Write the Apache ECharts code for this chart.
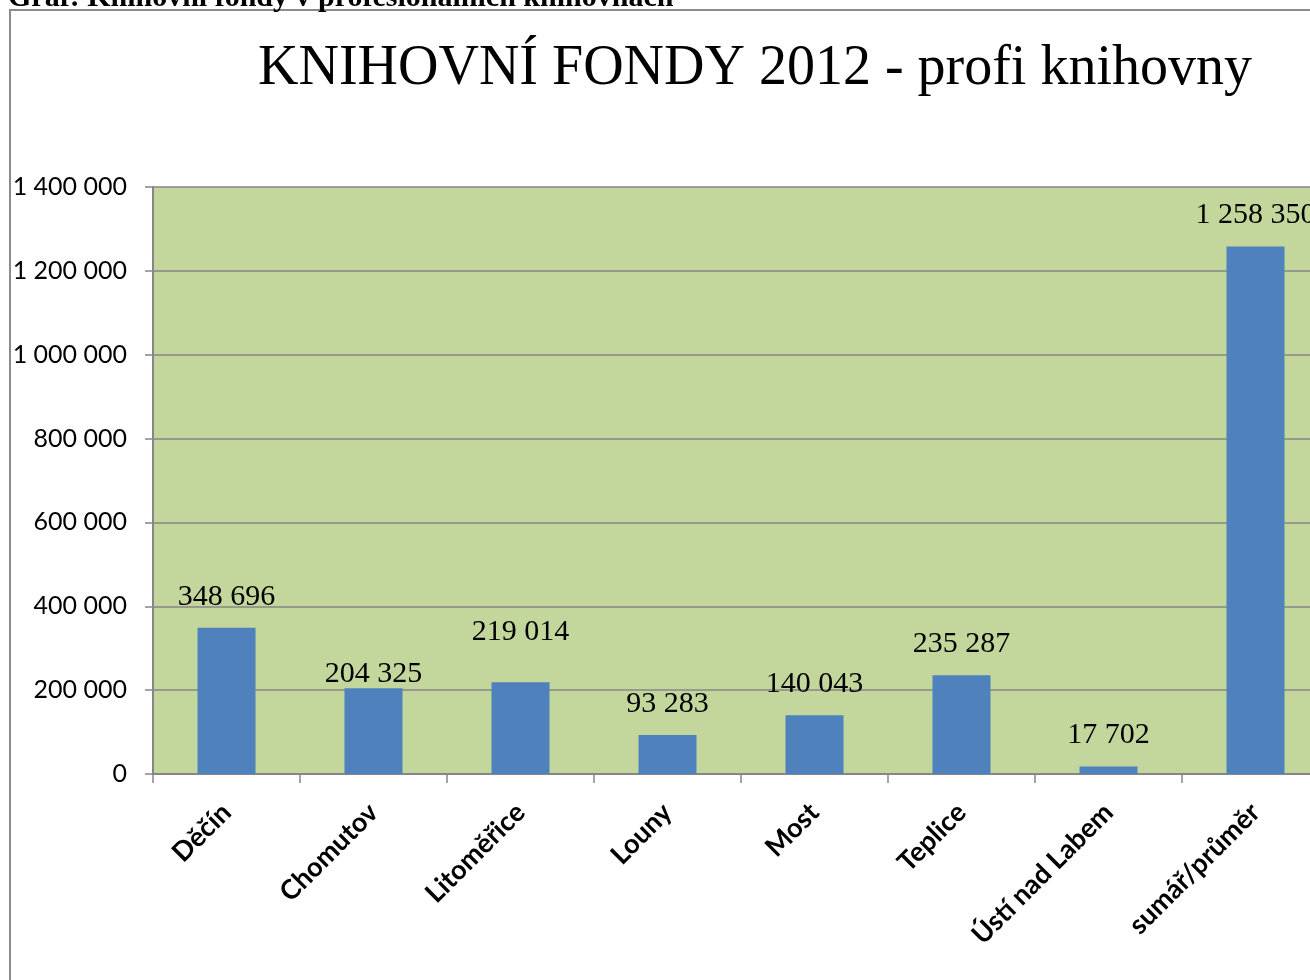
<!DOCTYPE html>
<html lang="cs">

<head>
    <meta charset="UTF-8">
    <title>Knihovní fondy 2012</title>
    <script src="https://cdn.jsdelivr.net/npm/echarts@6.0.0/dist/echarts.min.js"></script>
    <style>
        body { margin: 0; background: #fff; }
    </style>
</head>

<body>
    <div id="main" style="width: 1310px;height:980px;"></div>

    <script type="text/javascript">
        // data
        const mesta = ['Děčín', 'Chomutov', 'Litoměřice', 'Louny', 'Most', 'Teplice', 'Ústí nad Labem', 'sumář/průměr'];
        const fondy = [348696, 204325, 219014, 93283, 140043, 235287, 17702, 1258350];
        const yTicks = [0, 200000, 400000, 600000, 800000, 1000000, 1200000, 1400000];

        // posun popisků u dvou sloupců (v originále ručně posunuté)
        const labelOffsets = [0, 17, -19, 0, 0, 0, 0, 0];

        function cislo(v) {
            return String(v).replace(/\B(?=(\d{3})+(?!\d))/g, ' ');
        }

        var chart = echarts.init(document.getElementById('main'));

        var option = {
            animation: false,
            backgroundColor: '#fff',
            graphic: [
                {
                    type: 'rect',
                    shape: { x: 10, y: 10, width: 1330, height: 1000 },
                    style: { fill: 'none', stroke: '#8c8c8c', lineWidth: 2 }
                },
                {
                    type: 'text',
                    left: 8,
                    top: -17,
                    style: {
                        text: 'Graf: Knihovní fondy v profesionálních knihovnách',
                        font: 'bold 30px "Liberation Serif"',
                        fill: '#000'
                    }
                }
            ],
            title: {
                text: 'KNIHOVNÍ FONDY 2012 - profi knihovny',
                left: 750,
                textAlign: 'center',
                top: 36,
                textStyle: {
                    fontFamily: 'Liberation Serif',
                    fontSize: 56,
                    fontWeight: 'normal',
                    color: '#000'
                }
            },
            grid: {
                left: 153,
                top: 187,
                width: 1176,
                bottom: 206,
                outerBoundsMode: 'none',
                show: true,
                backgroundColor: '#c3d69b',
                borderWidth: 0
            },
            xAxis: {
                type: 'category',
                data: mesta,
                axisLine: { lineStyle: { color: '#868686', width: 2 } },
                axisTick: { show: true, length: 9, lineStyle: { color: '#868686', width: 1.5 } },
                axisLabel: {
                    interval: 0,
                    rotate: 45,
                    margin: 34,
                    fontFamily: 'Lato',
                    fontWeight: 'bold',
                    fontSize: 27,
                    color: '#000'
                }
            },
            yAxis: {
                type: 'value',
                min: yTicks[0],
                max: yTicks[yTicks.length - 1],
                interval: yTicks[1] - yTicks[0],
                axisLine: { show: true, lineStyle: { color: '#868686', width: 2 } },
                axisTick: { show: true, length: 8, lineStyle: { color: '#868686', width: 1.5 } },
                splitLine: { lineStyle: { color: '#868686', width: 1.5 } },
                axisLabel: {
                    margin: 26,
                    fontFamily: 'Lato',
                    fontSize: 25,
                    color: '#000',
                    formatter: cislo
                }
            },
            series: [
                {
                    type: 'bar',
                    barWidth: 58,
                    data: fondy.map((v, i) => ({
                        value: v,
                        label: { offset: [0, labelOffsets[i]] }
                    })),
                    itemStyle: { color: '#4f81bd' },
                    label: {
                        show: true,
                        position: 'top',
                        distance: 16,
                        fontFamily: 'Liberation Serif',
                        fontSize: 30,
                        color: '#000',
                        formatter: (p) => cislo(p.value)
                    }
                }
            ]
        };

        chart.setOption(option);
    </script>
</body>

</html>
